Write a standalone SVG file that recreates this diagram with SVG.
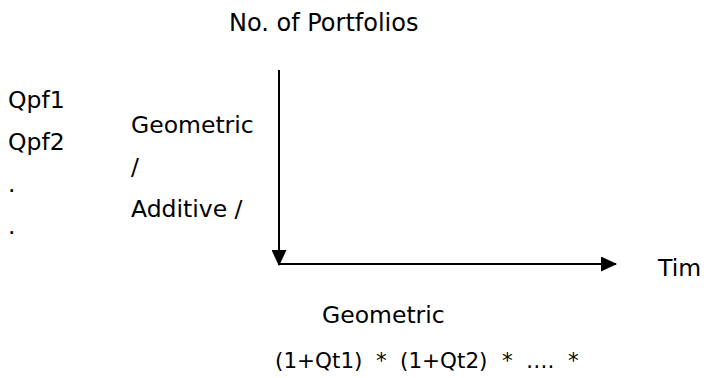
<svg xmlns="http://www.w3.org/2000/svg" width="704" height="378" viewBox="0 0 704 378">
<defs>
<style>
text{font-family:"DejaVu Sans","Verdana",sans-serif;font-size:23.5px;fill:#000}
.f{font-size:21.5px}
.ax{stroke:#000;stroke-width:2;fill:none}
</style>
<marker id="ah" viewBox="0 0 16 15" refX="15" refY="7.5" markerWidth="16" markerHeight="15" markerUnits="userSpaceOnUse" orient="auto">
<path d="M0,0 L16,7.5 L0,15 Z" fill="#000"/>
</marker>
</defs>
<rect width="704" height="378" fill="#fff"/>
<g id="connectors">
<line class="ax" x1="279" y1="70" x2="279" y2="265" marker-end="url(#ah)"/>
<line class="ax" x1="279" y1="264" x2="616" y2="264" marker-end="url(#ah)"/>
</g>
<g id="y-label"><text x="229" y="31" style="font-size:24px">No. of Portfolios</text></g>
<g id="portfolios">
<text x="8" y="108">Qpf1</text>
<text x="8" y="150">Qpf2</text>
<text x="8" y="192">.</text>
<text x="8" y="234">.</text>
</g>
<g id="method-left">
<text x="131" y="133">Geometric</text>
<text x="131" y="175">/</text>
<text x="131" y="217">Additive /</text>
</g>
<g id="x-label"><text x="658" y="276">Tim</text></g>
<g id="method-bottom">
<text x="322" y="323">Geometric</text>
<text class="f" y="368"><tspan x="275">(1+Qt1)</tspan><tspan x="376">*</tspan><tspan x="400">(1+Qt2)</tspan><tspan x="502">*</tspan><tspan x="526">….</tspan><tspan x="568">*</tspan></text>
</g>
</svg>
